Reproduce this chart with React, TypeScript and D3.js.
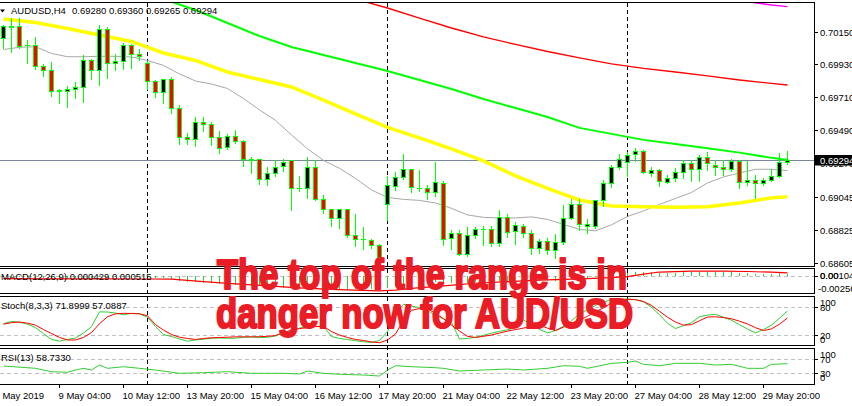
import React from "react";
import * as d3 from "d3";

const W = 852;
const H = 406;
const FONT = "'Liberation Sans', Arial, sans-serif";

// ---- H4 candles, AUDUSD ----
const opens = [0.70108,0.70183,0.70190,0.70060,0.70059,0.69923,0.69892,0.69757,0.69750,0.69768,
0.69781,0.69963,0.69892,0.70168,0.69937,0.69950,0.70059,0.70001,0.69941,0.69817,
0.69745,0.69830,0.69641,0.69448,0.69434,0.69548,0.69535,0.69448,0.69381,0.69452,
0.69421,0.69297,0.69296,0.69163,0.69208,0.69252,0.69290,0.69108,0.69107,0.69248,
0.69029,0.68963,0.68907,0.68963,0.68791,0.68764,0.68759,0.68723,0.68996,0.69118,
0.69181,0.69230,0.69108,0.69107,0.69081,0.69141,0.68774,0.68807,0.68663,0.68789,
0.68835,0.68829,0.68741,0.68914,0.68818,0.68851,0.68807,0.68707,0.68751,0.68691,
0.68747,0.68907,0.69001,0.68851,0.68851,0.69023,0.69141,0.69248,0.69278,0.69330,
0.69352,0.69208,0.69228,0.69147,0.69170,0.69214,0.69274,0.69234,0.69314,0.69261,
0.69248,0.69234,0.69285,0.69147,0.69161,0.69136,0.69161,0.69188,0.69280];
const highs = [0.70203,0.70250,0.70250,0.70103,0.70119,0.69943,0.69952,0.69770,0.69790,0.69819,
0.69997,0.69975,0.70197,0.70185,0.70008,0.70079,0.70075,0.70041,0.69963,0.69830,
0.69841,0.69852,0.69668,0.69478,0.69585,0.69585,0.69552,0.69490,0.69474,0.69496,
0.69430,0.69318,0.69308,0.69252,0.69296,0.69308,0.69296,0.69190,0.69318,0.69296,
0.69063,0.68974,0.68974,0.68965,0.68941,0.68851,0.68774,0.68741,0.69190,0.69218,
0.69341,0.69232,0.69234,0.69129,0.69285,0.69158,0.68829,0.68834,0.68851,0.68851,
0.68856,0.68856,0.68963,0.68941,0.68885,0.68874,0.68829,0.68774,0.68781,0.68803,
0.68996,0.69041,0.69041,0.68907,0.69034,0.69168,0.69263,0.69336,0.69352,0.69378,
0.69363,0.69252,0.69241,0.69196,0.69248,0.69296,0.69296,0.69330,0.69352,0.69296,
0.69301,0.69308,0.69301,0.69292,0.69196,0.69181,0.69241,0.69345,0.69360];
const lows = [0.70043,0.70010,0.70041,0.69943,0.69897,0.69852,0.69718,0.69670,0.69643,0.69708,
0.69678,0.69830,0.69796,0.69841,0.69892,0.69897,0.69908,0.69957,0.69763,0.69714,
0.69674,0.69608,0.69396,0.69396,0.69385,0.69485,0.69392,0.69336,0.69368,0.69408,
0.69252,0.69208,0.69129,0.69127,0.69185,0.69218,0.68956,0.69085,0.69036,0.69023,
0.68941,0.68851,0.68841,0.68781,0.68718,0.68696,0.68707,0.68616,0.68891,0.69091,
0.69168,0.69078,0.69085,0.69029,0.69051,0.68723,0.68696,0.68656,0.68651,0.68774,
0.68723,0.68718,0.68718,0.68781,0.68729,0.68781,0.68663,0.68669,0.68663,0.68641,
0.68729,0.68896,0.68825,0.68807,0.68841,0.68985,0.69114,0.69230,0.69185,0.69285,
0.69208,0.69185,0.69118,0.69136,0.69151,0.69170,0.69151,0.69151,0.69225,0.69190,
0.69190,0.69218,0.69107,0.69123,0.69036,0.69123,0.69151,0.69181,0.69265];
const closes = [0.70185,0.70186,0.70052,0.70058,0.69919,0.69890,0.69756,0.69755,0.69768,0.69781,
0.69963,0.69890,0.70168,0.69937,0.69955,0.70059,0.70001,0.69985,0.69817,0.69745,
0.69830,0.69641,0.69448,0.69434,0.69545,0.69532,0.69448,0.69374,0.69452,0.69421,
0.69296,0.69295,0.69163,0.69208,0.69248,0.69278,0.69107,0.69106,0.69248,0.69029,
0.68963,0.68907,0.68963,0.68789,0.68763,0.68762,0.68723,0.68643,0.69123,0.69181,
0.69230,0.69114,0.69106,0.69081,0.69147,0.68767,0.68807,0.68663,0.68789,0.68834,
0.68833,0.68741,0.68914,0.68814,0.68856,0.68807,0.68707,0.68751,0.68691,0.68745,
0.68907,0.69001,0.68863,0.68867,0.69023,0.69141,0.69248,0.69301,0.69325,0.69352,
0.69212,0.69228,0.69150,0.69174,0.69214,0.69274,0.69234,0.69314,0.69270,0.69248,
0.69234,0.69285,0.69147,0.69161,0.69136,0.69161,0.69188,0.69281,0.69294];

// ---- moving averages (read at sample bars) ----
const maGreyIdx = [0,2,4,6,8,10,12,14,16,18,20,22,24,26,28,30,32,34,36,38,40,42,44,46,48,50,52,54,56,58,60,62,64,66,68,70,72,74,76,78,80,82,84,86,88,90,92,94,96,98];
const maGreyVal = [0.70033,0.70048,0.70052,0.70007,0.69985,0.69985,0.69988,0.69988,0.69983,0.69960,
0.69927,0.69870,0.69823,0.69803,0.69773,0.69706,0.69630,0.69560,0.69463,0.69370,
0.69293,0.69240,0.69173,0.69096,0.69046,0.69033,0.69026,0.69009,0.68973,0.68929,
0.68913,0.68909,0.68909,0.68916,0.68899,0.68866,0.68833,0.68823,0.68863,0.68919,
0.68956,0.68999,0.69039,0.69079,0.69143,0.69183,0.69209,0.69234,0.69234,0.69225];
const maYellowIdx = [0,4,8,12,16,20,24,28,32,36,40,44,48,52,56,60,64,68,72,76,80,84,88,92,96,98];
const maYellowVal = [0.70237,0.70213,0.70173,0.70130,0.70087,0.70010,0.69960,0.69883,0.69833,0.69783,
0.69696,0.69603,0.69514,0.69443,0.69370,0.69290,0.69190,0.69106,0.69029,0.68989,
0.68983,0.68981,0.68983,0.69009,0.69043,0.69051];
const maGreenIdx = [20,24,28,32,36,40,44,48,52,56,60,64,68,72,76,80,84,88,92,96,98];
const maGreenVal = [0.70370,0.70297,0.70210,0.70123,0.70050,0.69997,0.69943,0.69890,0.69830,0.69770,
0.69703,0.69643,0.69583,0.69510,0.69470,0.69430,0.69403,0.69374,0.69345,0.69310,0.69296];
const maRedIdx = [44,48,52,56,60,64,68,72,76,80,84,88,92,96,98];
const maRedVal = [0.70370,0.70310,0.70243,0.70177,0.70117,0.70067,0.70020,0.69977,0.69937,0.69907,
0.69883,0.69857,0.69830,0.69807,0.69796];
const maMagentaIdx = [92,96,98];
const maMagentaVal = [0.70360,0.70330,0.70319];

// ---- MACD(12,26,9) ----
const macdMain = [-0.00012,-0.00010,-0.00014,-0.00018,-0.00022,-0.00026,-0.00030,-0.00034,-0.00034,-0.00030,
-0.00020,-0.00022,-0.00008,-0.00010,-0.00010,-0.00006,-0.00006,-0.00010,-0.00014,-0.00022,
-0.00030,-0.00044,-0.00068,-0.00083,-0.00091,-0.00099,-0.00107,-0.00115,-0.00123,-0.00130,
-0.00138,-0.00146,-0.00154,-0.00162,-0.00170,-0.00178,-0.00182,-0.00186,-0.00182,-0.00186,
-0.00186,-0.00190,-0.00190,-0.00194,-0.00194,-0.00198,-0.00198,-0.00198,-0.00185,-0.00155,
-0.00130,-0.00118,-0.00107,-0.00100,-0.00091,-0.00099,-0.00102,-0.00107,-0.00099,-0.00091,
-0.00083,-0.00083,-0.00068,-0.00068,-0.00060,-0.00060,-0.00068,-0.00068,-0.00072,-0.00068,
-0.00052,-0.00036,-0.00028,-0.00024,-0.00013,0.00003,0.00019,0.00035,0.00050,0.00066,
0.00066,0.00066,0.00058,0.00058,0.00058,0.00066,0.00066,0.00066,0.00066,0.00066,
0.00066,0.00066,0.00058,0.00050,0.00043,0.00043,0.00043,0.00050,0.000429];
const macdSignalIdx = [0,6,12,18,21,25,29,33,37,41,45,47,49,51,55,59,63,67,71,73,76,78,80,82,86,90,93,96,98];
const macdSignalVal = [-0.00036,-0.00040,-0.00038,-0.00041,-0.00044,-0.00083,-0.00115,-0.00146,-0.00178,-0.00201,
-0.00217,-0.00225,-0.00214,-0.00186,-0.00146,-0.00107,-0.00083,-0.00060,-0.00044,-0.00036,
-0.00020,-0.00005,0.00035,0.00066,0.00079,0.00079,0.00074,0.00063,0.000515];

// ---- Stochastic(8,3,3) ----
const stochK = [45.1,49.9,48.2,44.1,36.7,24.2,11.7,8.1,11.7,14.8,
25.3,38.8,70.1,69.7,67.6,63.9,67.0,66.0,58.7,38.8,
22.1,18.0,12.7,8.1,10.6,12.3,14.4,14.8,14.2,14.4,
16.3,16.9,15.9,16.3,19.0,26.3,29.4,35.7,39.5,39.5,
39.5,18.0,13.8,11.7,9.0,6.9,5.4,9.6,28.4,66.0,
86.2,82.0,79.1,73.3,61.8,55.5,47.2,12.7,13.8,16.5,
20.5,25.1,28.8,32.2,36.7,53.0,43.0,33.0,25.7,30.5,
39.9,51.4,66.0,74.3,83.7,90.0,97.3,97.3,97.3,95.8,
91.0,80.0,63.9,46.1,34.7,40.9,47.2,59.7,63.3,64.9,
58.7,52.4,43.0,33.6,25.7,32.6,42.0,56.6,71.8999];
const stochD = [44.1,47.2,48.6,46.1,42.0,32.6,24.2,15.9,10.6,10.6,
15.9,26.3,45.1,59.7,66.0,67.0,66.6,66.0,61.8,43.0,
31.5,22.1,16.5,13.8,11.7,13.8,15.2,15.9,16.5,17.3,
17.3,17.3,17.5,18.4,20.0,26.3,31.5,34.7,36.7,38.8,
39.5,28.4,21.1,15.9,11.7,9.6,6.5,4.8,10.6,23.2,
52.4,73.3,77.0,76.4,67.0,55.5,42.0,29.4,18.4,15.9,
18.4,21.1,25.3,29.4,32.6,35.7,39.9,42.0,35.7,30.5,
37.8,44.7,52.4,60.8,70.1,78.5,88.9,94.2,96.7,95.8,
92.1,83.7,71.2,58.7,48.6,42.0,43.0,51.4,59.1,59.7,
58.0,55.5,50.3,44.5,36.7,30.5,34.0,44.1,57.0887];

// ---- RSI(13) ----
const rsiIdx = [0,4,6,8,9,10,11,12,13,15,17,19,22,25,28,31,35,37,38,40,42,45,47,48,49,51,54,55,57,60,63,65,68,70,72,73,76,78,79,80,82,84,87,89,91,93,95,96,98];
const rsiVal = [51.9,45,34.8,33,39.9,45,39.9,54.9,45,49.8,45,39.9,30,31.8,34.8,30,30,28,36.9,30,
27,24.9,21.9,39.9,52.8,49.8,46.8,45,36.9,39.9,42.9,39.9,45,52.8,51,45,60,63,66.9,57,
52.8,60,60,54.9,57,45,45,57,58.733];

// ---- axes ----
const priceTicks = [0.7015, 0.6993, 0.6971, 0.6949, 0.6927, 0.69045, 0.68825, 0.68605];
const bidPrice = 0.69294;
const weekStartIdx = [18, 48, 78];
const timeTickIdx = [-1, 7, 15, 23, 31, 39, 47, 55, 63, 71, 79, 87, 95];
const timeLabels = ["8 May 2019", "9 May 04:00", "10 May 12:00", "13 May 20:00", "15 May 04:00", "16 May 12:00",
  "17 May 20:00", "21 May 04:00", "22 May 12:00", "23 May 20:00", "27 May 04:00", "28 May 12:00", "29 May 20:00"];
const title = "AUDUSD,H4";
const titleValues = "0.69280 0.69360 0.69265 0.69294";
const overlayLines = ["The top of the range is in", "danger now for AUD/USD"];

const GREEN = "#00ff00";
const IND_GREEN = "#32cd32";
const HEAD_RED = "#ea1d27";

export default function App() {
  const n = closes.length;
  const x = d3.scaleLinear().domain([0, n - 1]).range([3.5, 787.5]);
  const y = d3.scaleLinear().domain([0.68605, 0.7015]).range([263.5, 32]);
  const yMacd = d3.scaleLinear().domain([-0.002569, 0.001049]).range([293, 269.5]);
  const yStoch = d3.scaleLinear().domain([0, 100]).range([345, 297.7]);
  const yRsi = d3.scaleLinear().domain([0, 100]).range([383.3, 350]);
  const px = (v: number) => Math.round(v - 0.5) + 0.5;

  const sparse = (idx: number[], vals: number[], ys: (v: number) => number) =>
    d3.line<number>().x((_, k) => x(idx[k])).y((v) => ys(v))(vals) || "";
  const full = (vals: number[], ys: (v: number) => number) =>
    d3.line<number>().x((_, k) => x(k)).y((v) => ys(v))(vals) || "";

  const frames = [
    { y0: 2.5, y1: 266.5 },
    { y0: 268.5, y1: 293.5 },
    { y0: 296.5, y1: 345.5 },
    { y0: 348.5, y1: 384.5 },
  ];

  const fmt = d3.format(".5f");
  const textStyle = { fontFamily: FONT, fontSize: 9.5, fill: "#000" } as const;

  return (
    <div style={{ position: "absolute", left: 0, top: 0 }}>
      <svg width={W} height={H} viewBox={`0 0 ${W} ${H}`} style={{ display: "block", background: "#fff" }}>
        <defs>
          <clipPath id="mainClip"><rect x={0} y={3} width={814} height={263} /></clipPath>
          <clipPath id="macdClip"><rect x={0} y={269} width={814} height={24} /></clipPath>
          <clipPath id="stochClip"><rect x={0} y={297} width={814} height={48} /></clipPath>
          <clipPath id="rsiClip"><rect x={0} y={349} width={814} height={35} /></clipPath>
        </defs>
        <rect x={0} y={0} width={W} height={H} fill="#fff" />

        {/* indicator grid levels */}
        <g stroke="#c0c0c0" strokeDasharray="4,3" shapeRendering="crispEdges">
          <line x1={0} x2={814} y1={px(yMacd(0))} y2={px(yMacd(0))} />
          <line x1={0} x2={814} y1={px(yStoch(80))} y2={px(yStoch(80))} />
          <line x1={0} x2={814} y1={px(yStoch(20))} y2={px(yStoch(20))} />
          <line x1={0} x2={814} y1={px(yRsi(70))} y2={px(yRsi(70))} />
          <line x1={0} x2={814} y1={px(yRsi(30))} y2={px(yRsi(30))} />
        </g>

        {/* week separators */}
        <g stroke="#000" strokeDasharray="4,3" shapeRendering="crispEdges">
          {weekStartIdx.map((i) => (
            <line key={i} x1={x(i)} x2={x(i)} y1={3} y2={384} />
          ))}
        </g>

        {/* main chart */}
        <g clipPath="url(#mainClip)">
          <line x1={0} x2={814} y1={px(y(bidPrice))} y2={px(y(bidPrice))} stroke="#778899" shapeRendering="crispEdges" />
          <path d={sparse(maGreyIdx, maGreyVal, y)} fill="none" stroke="#a8a8a8" strokeWidth={1} />
          <path d={sparse(maYellowIdx, maYellowVal, y)} fill="none" stroke="#ffff00" strokeWidth={3.5} />
          <path d={sparse(maGreenIdx, maGreenVal, y)} fill="none" stroke={GREEN} strokeWidth={2} />
          <path d={sparse(maRedIdx, maRedVal, y)} fill="none" stroke="#ff0000" strokeWidth={1.4} />
          <path d={sparse(maMagentaIdx, maMagentaVal, y)} fill="none" stroke="#ff00ff" strokeWidth={1.4} />
          <g shapeRendering="crispEdges">
            {closes.map((c, i) => {
              const o = opens[i];
              const cx = x(i);
              const yTop = px(y(Math.max(o, c)));
              const yBot = px(y(Math.min(o, c)));
              const bull = c > o;
              return (
                <g key={i}>
                  <line x1={cx} x2={cx} y1={px(y(highs[i]))} y2={px(y(lows[i]))} stroke={GREEN} />
                  {yBot - yTop < 1 ? (
                    <line x1={cx - 2.5} x2={cx + 2.5} y1={yTop} y2={yTop} stroke={GREEN} />
                  ) : (
                    <rect x={cx - 2} y={yTop} width={4} height={yBot - yTop} fill={bull ? "#000" : "#ff0000"} stroke={GREEN} />
                  )}
                </g>
              );
            })}
          </g>
        </g>

        {/* MACD */}
        <g clipPath="url(#macdClip)">
          <g stroke={IND_GREEN} shapeRendering="crispEdges">
            {macdMain.map((v, i) => (
              <line key={i} x1={x(i)} x2={x(i)} y1={yMacd(0)} y2={yMacd(v)} />
            ))}
          </g>
          <path d={sparse(macdSignalIdx, macdSignalVal, yMacd)} fill="none" stroke="#ff0000" strokeWidth={1.2} />
        </g>

        {/* Stochastic */}
        <g clipPath="url(#stochClip)">
          <path d={full(stochK, yStoch)} fill="none" stroke={IND_GREEN} strokeWidth={1} />
          <path d={full(stochD, yStoch)} fill="none" stroke="#ff0000" strokeWidth={1} />
        </g>

        {/* RSI */}
        <g clipPath="url(#rsiClip)">
          <path d={sparse(rsiIdx, rsiVal, yRsi)} fill="none" stroke={IND_GREEN} strokeWidth={1} />
        </g>

        {/* frames */}
        <g fill="none" stroke="#000" shapeRendering="crispEdges">
          {frames.map((f, k) => (
            <rect key={k} x={-1} y={f.y0} width={815.5} height={f.y1 - f.y0} />
          ))}
        </g>

        {/* right price axis */}
        <g shapeRendering="crispEdges" stroke="#000">
          {priceTicks.map((p) => (
            <line key={p} x1={814.5} x2={818} y1={px(y(p))} y2={px(y(p))} />
          ))}
          {[yMacd(0), yStoch(80), yStoch(20), yRsi(70), yRsi(30)].map((v, k) => (
            <line key={"s" + k} x1={814.5} x2={818} y1={px(v)} y2={px(v)} />
          ))}
        </g>
        {priceTicks.map((p) => (
          <text key={p} x={820} y={y(p) + 3.5} style={textStyle}>{fmt(p)}</text>
        ))}
        <rect x={815} y={px(y(bidPrice)) - 5.5} width={40} height={10.5} fill="#000" />
        <text x={820} y={px(y(bidPrice)) + 3.5} style={{ ...textStyle, fill: "#fff" }}>{fmt(bidPrice)}</text>

        {/* sub-window scale labels */}
        <text x={820} y={yMacd(0) + 3} style={textStyle}>0.001049</text>
        <text x={820} y={yMacd(0) + 3} style={textStyle}>0.00</text>
        <text x={818} y={291.5} style={textStyle}>-0.002569</text>
        <text x={820} y={306} style={textStyle}>100</text>
        <text x={820} y={yStoch(80) + 3.5} style={textStyle}>80</text>
        <text x={820} y={yStoch(20) + 3.5} style={textStyle}>20</text>
        <text x={820} y={342.5} style={textStyle}>0</text>
        <text x={820} y={358} style={textStyle}>100</text>
        <text x={820} y={yRsi(70) + 3.5} style={textStyle}>70</text>
        <text x={820} y={yRsi(30) + 3.5} style={textStyle}>30</text>
        <text x={820} y={380.5} style={textStyle}>0</text>

        {/* time axis */}
        <g stroke="#000" shapeRendering="crispEdges">
          {timeTickIdx.map((i) => (
            <line key={i} x1={x(i)} x2={x(i)} y1={384.5} y2={388} />
          ))}
        </g>
        {timeTickIdx.map((i, k) => (
          <text key={i} x={x(i) - 1} y={399} style={textStyle}>{timeLabels[k]}</text>
        ))}

        {/* window titles */}
        <polygon points="0,9.5 5,9.5 2.5,12.5" fill="#000" />
        <text x={11} y={14} style={textStyle}>{title}</text>
        <text x={72} y={14} style={textStyle}>{titleValues}</text>
        <text x={1} y={280} style={textStyle}>MACD(12,26,9) 0.000429 0.000515</text>
        <text x={1} y={308.5} style={textStyle}>Stoch(8,3,3) 71.8999 57.0887</text>
        <text x={1} y={360.5} style={textStyle}>RSI(13) 58.7330</text>

        {/* overlay headline */}
        <text x={217} y={289} fontFamily={FONT} fontWeight="bold" fontSize={43} fill={HEAD_RED}
          stroke={HEAD_RED} strokeWidth={2.2} strokeLinejoin="round"
          textLength={410} lengthAdjust="spacingAndGlyphs">{overlayLines[0]}</text>
        <text x={216} y={328} fontFamily={FONT} fontWeight="bold" fontSize={43} fill={HEAD_RED}
          stroke={HEAD_RED} strokeWidth={2.2} strokeLinejoin="round"
          textLength={417} lengthAdjust="spacingAndGlyphs">{overlayLines[1]}</text>
      </svg>
    </div>
  );
}
